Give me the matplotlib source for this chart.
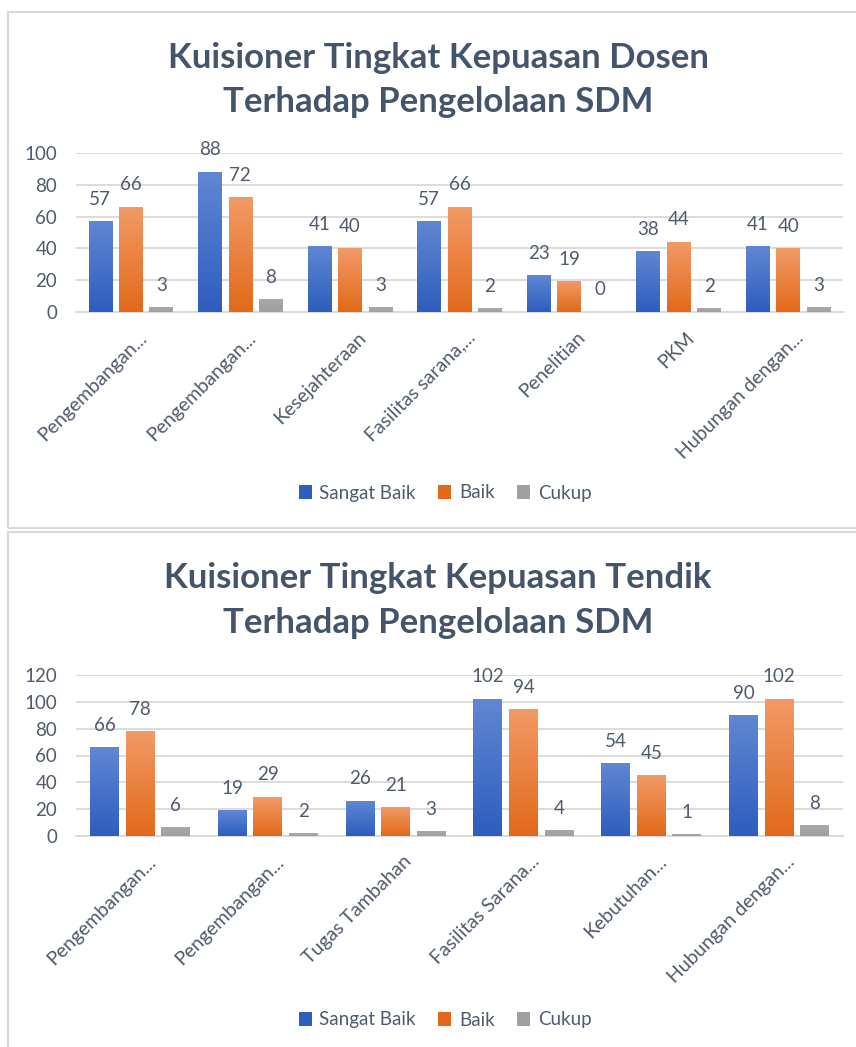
import numpy as np
import matplotlib.pyplot as plt
from matplotlib.colors import LinearSegmentedColormap
from matplotlib.patches import Rectangle, Patch
from matplotlib.transforms import ScaledTranslation

plt.rcParams['font.family'] = ['Lato', 'DejaVu Sans']

# ---- data ----
dosen_kategori = ["Pengembangan...", "Pengembangan...", "Kesejahteraan",
                  "Fasilitas sarana,...", "Penelitian", "PKM", "Hubungan dengan..."]
dosen_sangat_baik = [57, 88, 41, 57, 23, 38, 41]
dosen_baik = [66, 72, 40, 66, 19, 44, 40]
dosen_cukup = [3, 8, 3, 2, 0, 2, 3]

tendik_kategori = ["Pengembangan...", "Pengembangan...", "Tugas Tambahan",
                   "Fasilitas Sarana...", "Kebutuhan...", "Hubungan dengan..."]
tendik_sangat_baik = [66, 19, 26, 102, 54, 90]
tendik_baik = [78, 29, 21, 94, 45, 102]
tendik_cukup = [6, 2, 3, 4, 1, 8]

seri = ["Sangat Baik", "Baik", "Cukup"]

W, H = 856, 1047
TXT = '#44546A'
LBL = '#4F5B6D'
GRID = '#D9D9D9'
# (atas, bawah) untuk gradasi
warna = [('#6087D3', '#2D5DBE'), ('#F29A66', '#E2691A'), ('#A8A8A8', '#A0A0A0')]


def fx(px):
    return px / W


def fy(py):
    return 1 - py / H


def batang_gradasi(ax, bars, atas, bawah):
    cmap = LinearSegmentedColormap.from_list('g', [bawah, atas])
    grad = np.linspace(0, 1, 256).reshape(-1, 1)
    for b in bars:
        x, y = b.get_xy()
        w, h = b.get_width(), b.get_height()
        b.set_facecolor('none')
        if h <= 0:
            continue
        ax.imshow(grad, extent=[x, x + w, y, y + h], origin='lower', cmap=cmap,
                  aspect='auto', zorder=3, interpolation='bilinear')


def panel(kategori, nilai, ymax, ax_box, judul, y_judul, y_legend, bar_w):
    left, right, y0, ytop = ax_box
    ax = fig.add_axes([fx(left), fy(y0), fx(right - left), (y0 - ytop) / H])
    x = np.arange(len(kategori))
    step = 0.278
    for i, vals in enumerate(nilai):
        pos = x + (i - 1) * step
        bars = ax.bar(pos, vals, width=bar_w, zorder=3, linewidth=0)
        batang_gradasi(ax, bars, *warna[i])
        for p, v in zip(pos, vals):
            ax.annotate(str(v), (p, v), xytext=(0, 16), textcoords='offset points',
                        ha='center', va='center', fontsize=13.5, color=LBL)
    ax.set_xlim(-0.5, len(kategori) - 0.5)
    ax.set_ylim(0, ymax)
    ax.set_yticks(np.arange(0, ymax + 1, 20))
    ax.grid(axis='y', color=GRID, linewidth=1.3, zorder=0)
    ax.set_axisbelow(True)
    for s in ['top', 'right', 'left']:
        ax.spines[s].set_visible(False)
    ax.spines['bottom'].set_color(GRID)
    ax.spines['bottom'].set_linewidth(1.3)
    ax.tick_params(length=0, labelsize=13.5, colors=LBL)
    ax.tick_params(axis='y', pad=13.5)
    ax.set_xticks(x)
    ax.set_xticklabels(kategori, rotation=45, ha='right', va='top',
                       rotation_mode='anchor', fontsize=14, color=LBL)
    ax.tick_params(axis='x', pad=12)
    geser = ScaledTranslation(7 / 100, 0, fig.dpi_scale_trans)
    for lbl in ax.get_xticklabels():
        lbl.set_transform(lbl.get_transform() + geser)
    ax.set_facecolor('none')

    baris = judul.split('\n')
    for t, yb in zip(baris, y_judul):
        fig.text(fx(438), fy(yb), t, ha='center', va='baseline', fontsize=25,
                 fontweight='bold', color=TXT)

    handles = [Patch(facecolor=warna[i][1], edgecolor='none') for i in range(3)]
    fig.legend(handles, seri, loc='center', bbox_to_anchor=(fx(445), fy(y_legend)),
               ncol=3, frameon=False, fontsize=13.5, labelcolor=LBL,
               handlelength=0.7, handleheight=0.7, handletextpad=0.4,
               columnspacing=1.2)
    return ax


fig = plt.figure(figsize=(W / 100, H / 100), dpi=100)

# bingkai tiap chart
fig.patches.append(Rectangle((fx(8), fy(528)), fx(860), (528 - 12) / H,
                             transform=fig.transFigure, fill=False,
                             edgecolor='#D9D9D9', linewidth=1.5))
fig.patches.append(Rectangle((fx(8), fy(1060)), fx(860), (1060 - 532) / H,
                             transform=fig.transFigure, fill=False,
                             edgecolor='#D9D9D9', linewidth=1.5))

panel(dosen_kategori, [dosen_sangat_baik, dosen_baik, dosen_cukup], 100,
      (76, 843, 312, 153),
      "Kuisioner Tingkat Kepuasan Dosen\nTerhadap Pengelolaan SDM",
      (68, 112), 493, 0.215)

panel(tendik_kategori, [tendik_sangat_baik, tendik_baik, tendik_cukup], 120,
      (76, 843, 836, 675),
      "Kuisioner Tingkat Kepuasan Tendik\nTerhadap Pengelolaan SDM",
      (588, 633), 1020, 0.225)

fig.savefig('out.png', dpi=100)
